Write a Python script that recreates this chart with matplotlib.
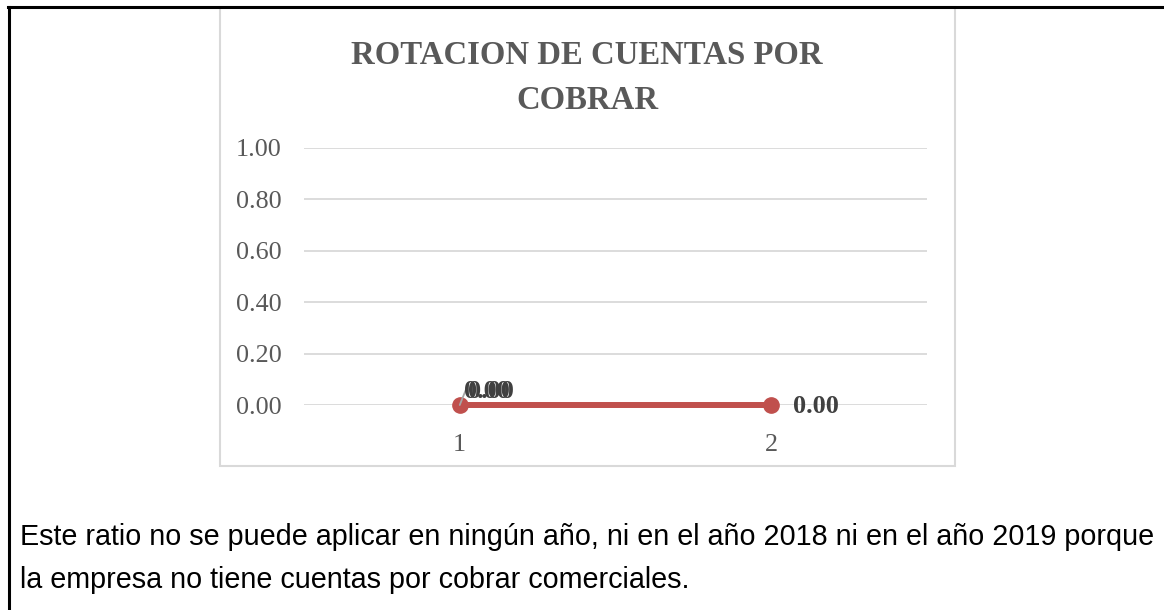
import matplotlib.pyplot as plt
from matplotlib.patches import Rectangle
from matplotlib.lines import Line2D

# data
categories = [1, 2]
values = [0.00, 0.00]
y_ticks = [0.0, 0.2, 0.4, 0.6, 0.8, 1.0]
title = "ROTACION DE CUENTAS POR\nCOBRAR"
body_lines = [
    "Este ratio no se puede aplicar en ningún año, ni en el año 2018 ni en el año 2019 porque",
    "la empresa no tiene cuentas por cobrar comerciales.",
]

W, H = 1164, 610
fig = plt.figure(figsize=(W / 100, H / 100), dpi=100)
fig.patch.set_facecolor("white")


def fx(px):
    return px / W


def fy(py):
    return 1 - py / H


# outer document frame (top and left)
fig.add_artist(Line2D([fx(8), 1], [fy(7), fy(7)], color="black", lw=2.2, transform=fig.transFigure))
fig.add_artist(Line2D([fx(9), fx(9)], [fy(7), 0], color="black", lw=2.2, transform=fig.transFigure))

# chart box
fig.add_artist(Rectangle((fx(220), fy(466)), fx(955) - fx(220), fy(7) - fy(466),
                         fill=False, edgecolor="#D9D9D9", lw=1.5, transform=fig.transFigure))

ax = fig.add_axes([fx(304), fy(405), fx(927) - fx(304), fy(148) - fy(405)])
ax.set_xlim(0.5, 2.5)
ax.set_ylim(0, 1)
for s in ax.spines.values():
    s.set_visible(False)
ax.set_yticks(y_ticks)
ax.set_yticklabels([f"{v:.2f}" for v in y_ticks], family="Liberation Serif", fontsize=18.8, color="#595959")
ax.set_xticks(categories)
ax.set_xticklabels([str(c) for c in categories], family="Liberation Serif", fontsize=18.8, color="#595959")
ax.tick_params(axis="y", length=0, pad=16)
ax.tick_params(axis="x", length=0, pad=21)
ax.grid(axis="y", color="#D9D9D9", lw=1.3)
ax.set_axisbelow(True)

ax.plot(categories, values, color="#C0504D", lw=4.3, marker="o", markersize=11,
        solid_capstyle="round", clip_on=False, zorder=3)

# data labels (the first point carries two overlapping labels, as in the source)
lab_kw = dict(family="Liberation Serif", fontsize=19, fontweight="bold", color="#404040", va="center")
ax.annotate("", xy=(categories[0], values[0]), xytext=(6, 15), textcoords="offset points",
            arrowprops=dict(arrowstyle="-", color="#A6A6A6", lw=1.3, shrinkA=0, shrinkB=0), zorder=4)
ax.annotate(f"{values[0]:.2f}", (categories[0], values[0]), xytext=(3, 10), textcoords="offset points",
            ha="left", zorder=5, **lab_kw)
ax.annotate(f"{values[0]:.2f}", (categories[0], values[0]), xytext=(6, 10), textcoords="offset points",
            ha="left", zorder=5, **lab_kw)
ax.annotate(f"{values[1]:.2f}", (categories[1], values[1]), xytext=(16, -1), textcoords="offset points",
            ha="left", zorder=5, **lab_kw)

fig.text(fx(587), fy(78), title, ha="center", va="center", family="Liberation Serif",
         fontsize=23.6, fontweight="bold", color="#595959", linespacing=1.55)

fig.text(fx(20), fy(537), body_lines[0], ha="left", va="center", family="Liberation Sans",
         fontsize=20.7, color="black")
fig.text(fx(20), fy(580), body_lines[1], ha="left", va="center", family="Liberation Sans",
         fontsize=20.7, color="black")

fig.savefig("out.png", dpi=100)
